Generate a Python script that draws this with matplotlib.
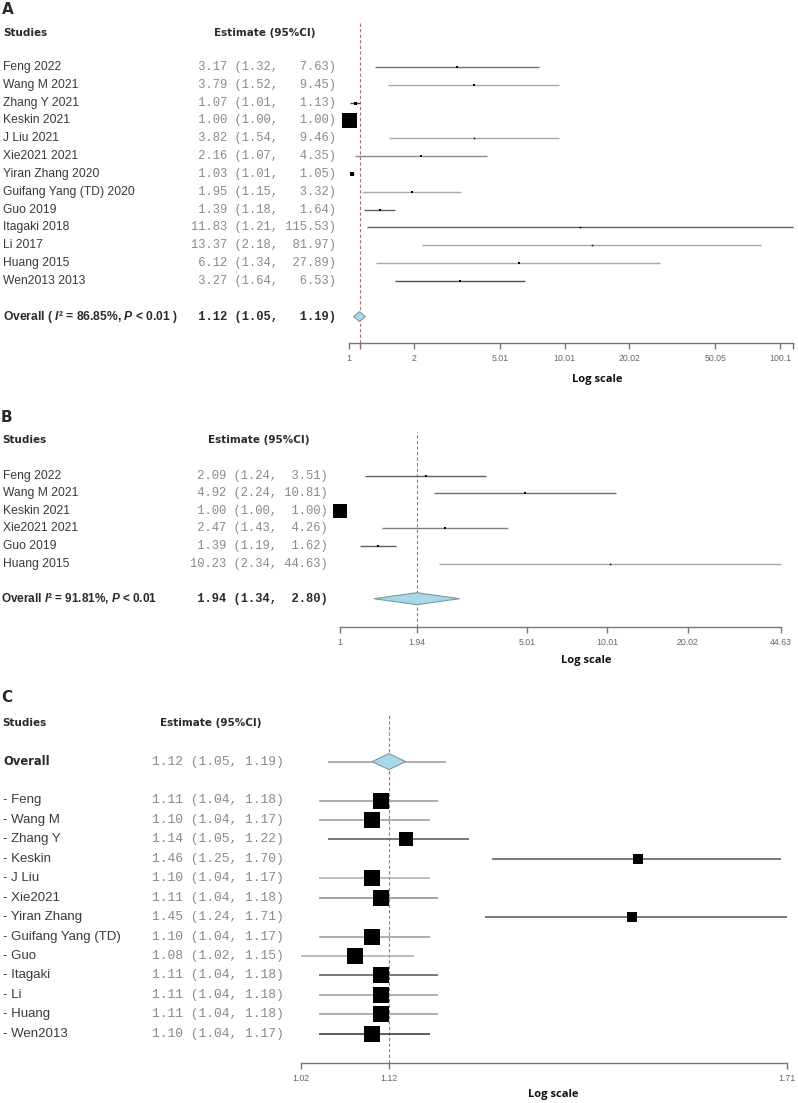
import matplotlib
matplotlib.use("Agg")
import matplotlib.pyplot as plt
import matplotlib.transforms as mtransforms
from matplotlib.patches import Polygon
from matplotlib.ticker import NullLocator

plt.rcParams['font.family'] = ['Liberation Sans', 'DejaVu Sans']
plt.rcParams['mathtext.fontset'] = 'custom'
plt.rcParams['mathtext.rm'] = 'Liberation Sans:bold'
plt.rcParams['mathtext.it'] = 'Liberation Sans:italic:bold'
plt.rcParams['mathtext.bf'] = 'Liberation Sans:bold'

W, H, DPI = 798, 1103, 100

# ---------------- data: panel A ----------------
a_studies = ["Feng 2022", "Wang M 2021", "Zhang Y 2021", "Keskin 2021", "J Liu 2021",
             "Xie2021 2021", "Yiran Zhang 2020", "Guifang Yang (TD) 2020", "Guo 2019",
             "Itagaki 2018", "Li 2017", "Huang 2015", "Wen2013 2013"]
a_est = [3.17, 3.79, 1.07, 1.00, 3.82, 2.16, 1.03, 1.95, 1.39, 11.83, 13.37, 6.12, 3.27]
a_lo = [1.32, 1.52, 1.01, 1.00, 1.54, 1.07, 1.01, 1.15, 1.18, 1.21, 2.18, 1.34, 1.64]
a_hi = [7.63, 9.45, 1.13, 1.00, 9.46, 4.35, 1.05, 3.32, 1.64, 115.53, 81.97, 27.89, 6.53]
a_overall = [1.12, 1.05, 1.19]
a_i2 = "86.85%"
a_p = "0.01"
a_ticks = [1, 2, 5.01, 10.01, 20.02, 50.05, 100.1]

# ---------------- data: panel B ----------------
b_studies = ["Feng 2022", "Wang M 2021", "Keskin 2021", "Xie2021 2021", "Guo 2019", "Huang 2015"]
b_est = [2.09, 4.92, 1.00, 2.47, 1.39, 10.23]
b_lo = [1.24, 2.24, 1.00, 1.43, 1.19, 2.34]
b_hi = [3.51, 10.81, 1.00, 4.26, 1.62, 44.63]
b_overall = [1.94, 1.34, 2.80]
b_i2 = "91.81%"
b_p = "0.01"
b_ticks = [1, 1.94, 5.01, 10.01, 20.02, 44.63]

# ---------------- data: panel C (leave-one-out) ----------------
c_omitted = ["Feng", "Wang M", "Zhang Y", "Keskin", "J Liu", "Xie2021", "Yiran Zhang",
             "Guifang Yang (TD)", "Guo", "Itagaki", "Li", "Huang", "Wen2013"]
c_est = [1.11, 1.10, 1.14, 1.46, 1.10, 1.11, 1.45, 1.10, 1.08, 1.11, 1.11, 1.11, 1.10]
c_lo = [1.04, 1.04, 1.05, 1.25, 1.04, 1.04, 1.24, 1.04, 1.02, 1.04, 1.04, 1.04, 1.04]
c_hi = [1.18, 1.17, 1.22, 1.70, 1.17, 1.18, 1.71, 1.17, 1.15, 1.18, 1.18, 1.18, 1.17]
c_overall = [1.12, 1.05, 1.19]
c_diamond = [1.10, 1.14]
c_ticks = [1.02, 1.12, 1.71]

# ---------------- styles ----------------
a_box_px = [2, 2, 3, 15, 1.5, 2, 4.5, 2, 2.5, 1.5, 1.5, 2, 2]
a_line_col = ['#707070', '#a8a8a8', '#404040', '#404040', '#a8a8a8', '#888888', '#404040',
              '#a8a8a8', '#606060', '#606060', '#a8a8a8', '#a8a8a8', '#505050']
b_box_px = [2, 2, 14, 2, 2.5, 1.5]
b_line_col = ['#606060', '#707070', '#404040', '#808080', '#606060', '#a8a8a8']
c_box_px = [15.5, 16, 14, 10.5, 16, 15.5, 10, 16, 15.5, 16, 15.5, 15.5, 15.5]
c_line_col = ['#999999', '#999999', '#555555', '#555555', '#aaaaaa', '#888888', '#555555',
              '#999999', '#aaaaaa', '#555555', '#999999', '#999999', '#333333']

NAME_COL = '#3a3a3a'
NUM_COL = '#8a8a8a'
HEAD_COL = '#2a2a2a'
AX_COL = '#777777'
DASH_COL = '#b07070'
DIAMOND_FC = '#a9d8e6'
DIAMOND_EC = '#7a9aa5'

fig = plt.figure(figsize=(W / DPI, H / DPI), dpi=DPI)


def pt(px):
    return px * 72.0 / DPI


def make_axes(left, top, right, bottom):
    return fig.add_axes([left / W, 1 - bottom / H, (right - left) / W, (bottom - top) / H])


def fx(px):
    return px / W


def fy(px):
    return 1 - px / H


def fmt_col(vals):
    return max(len(f"{v:.2f}") for v in vals)


def setup_axis(ax, lo, hi, ticks, extra_ticks, y_lims):
    ax.set_xscale('log')
    ax.set_xlim(lo, hi)
    ax.set_ylim(*y_lims)
    allt = list(ticks) + list(extra_ticks)
    ax.set_xticks(allt)
    ax.set_xticklabels([f"{t:g}" for t in ticks] + [""] * len(extra_ticks))
    ax.xaxis.set_minor_locator(NullLocator())
    ax.set_yticks([])
    for s in ['top', 'left', 'right']:
        ax.spines[s].set_visible(False)
    ax.spines['bottom'].set_color(AX_COL)
    ax.spines['bottom'].set_linewidth(1.0)
    ax.tick_params(axis='x', direction='out', length=pt(6), width=1.0, color=AX_COL,
                   labelsize=6.3, labelcolor='#666666', pad=pt(5))
    ax.patch.set_alpha(0)


def diamond(ax, lo, est, hi, y, half_h):
    poly = Polygon([(lo, y), (est, y - half_h), (hi, y), (est, y + half_h)], closed=True,
                   facecolor=DIAMOND_FC, edgecolor=DIAMOND_EC, lw=0.8, zorder=4, clip_on=False)
    ax.add_patch(poly)


# ================= Panel A =================
axA = make_axes(349, 22, 793.5, 343)
setup_axis(axA, min(a_lo), max(a_hi), a_ticks, [a_overall[0], max(a_hi)], (15.48, -2.52))
trA = mtransforms.blended_transform_factory(fig.transFigure, axA.transData)
we, wh = fmt_col(a_est), fmt_col(a_hi)
for i, (n, e, l, h) in enumerate(zip(a_studies, a_est, a_lo, a_hi)):
    axA.plot([l, h], [i, i], color=a_line_col[i], lw=1.0, solid_capstyle='butt', clip_on=False, zorder=3)
    axA.plot([e], [i], marker='s', ms=pt(a_box_px[i]), mew=0, color='black', clip_on=False, zorder=5)
    axA.text(fx(3), i, n, transform=trA, ha='left', va='center', fontsize=8.7, color=NAME_COL)
    axA.text(fx(191), i, f"{e:{we}.2f} ({l:.2f}, {h:{wh}.2f})", transform=trA, ha='left', va='center',
             fontsize=8.7, family='Liberation Mono', color=NUM_COL)
yo = len(a_studies) + 1
axA.axvline(a_overall[0], color=DASH_COL, lw=0.8, ls=(0, (3, 2)), zorder=2)
diamond(axA, a_overall[1], a_overall[0], a_overall[2], yo, 0.28)
axA.text(fx(3), yo, f"Overall ( $I$\u00b2 = {a_i2}, $P$ < {a_p} )", transform=trA, ha='left', va='center',
         fontsize=8.7, family='Liberation Sans', fontweight='bold', color=HEAD_COL)
axA.text(fx(191), yo, f"{a_overall[0]:{we}.2f} ({a_overall[1]:.2f}, {a_overall[2]:{wh}.2f})", transform=trA,
         ha='left', va='center', fontsize=8.7, family='Liberation Mono', fontweight='bold', color=HEAD_COL)
fig.text(fx(2), fy(9), "A", ha='left', va='center', fontsize=11, family='DejaVu Sans', fontweight='bold', color=HEAD_COL)
fig.text(fx(3), fy(33), "Studies", ha='left', va='center', fontsize=7.5, family='DejaVu Sans', fontweight='bold', color=HEAD_COL)
fig.text(fx(265), fy(33), "Estimate (95%CI)", ha='center', va='center', fontsize=7.5, family='DejaVu Sans', fontweight='bold', color=HEAD_COL)
fig.text(fx(597), fy(379), "Log scale", ha='center', va='center', fontsize=8, family='Open Sans', fontweight='bold', color='#111111')

# ================= Panel B =================
b_step, b_row0 = 17.6, 475.5
axB = make_axes(340, 432, 781, 627)
setup_axis(axB, min(b_lo), max(b_hi), b_ticks, [], ((627 - b_row0) / b_step, (432 - b_row0) / b_step))
trB = mtransforms.blended_transform_factory(fig.transFigure, axB.transData)
we, wh = fmt_col(b_est), fmt_col(b_hi)
for i, (n, e, l, h) in enumerate(zip(b_studies, b_est, b_lo, b_hi)):
    axB.plot([l, h], [i, i], color=b_line_col[i], lw=1.0, solid_capstyle='butt', clip_on=False, zorder=3)
    axB.plot([e], [i], marker='s', ms=pt(b_box_px[i]), mew=0, color='black', clip_on=False, zorder=5)
    axB.text(fx(3), i, n, transform=trB, ha='left', va='center', fontsize=8.7, color=NAME_COL)
    axB.text(fx(190), i, f"{e:{we}.2f} ({l:.2f}, {h:{wh}.2f})", transform=trB, ha='left', va='center',
             fontsize=8.7, family='Liberation Mono', color=NUM_COL)
yo = len(b_studies) + 1
axB.axvline(b_overall[0], color=DASH_COL, lw=0.8, ls=(0, (3, 2)), zorder=2)
diamond(axB, b_overall[1], b_overall[0], b_overall[2], yo, 0.34)
axB.text(fx(1), yo, f"Overall $I$\u00b2 = {b_i2}, $P$ < {b_p}", transform=trB, ha='left', va='center',
         fontsize=8.5, family='Liberation Sans', fontweight='bold', color=HEAD_COL)
axB.text(fx(190), yo, f"{b_overall[0]:{we}.2f} ({b_overall[1]:.2f}, {b_overall[2]:{wh}.2f})", transform=trB,
         ha='left', va='center', fontsize=8.7, family='Liberation Mono', fontweight='bold', color=HEAD_COL)
fig.text(fx(1), fy(418), "B", ha='left', va='center', fontsize=11, family='DejaVu Sans', fontweight='bold', color=HEAD_COL)
fig.text(fx(2), fy(440), "Studies", ha='left', va='center', fontsize=7.5, family='DejaVu Sans', fontweight='bold', color=HEAD_COL)
fig.text(fx(259), fy(440), "Estimate (95%CI)", ha='center', va='center', fontsize=7.5, family='DejaVu Sans', fontweight='bold', color=HEAD_COL)
fig.text(fx(586), fy(661), "Log scale", ha='center', va='center', fontsize=8, family='Open Sans', fontweight='bold', color='#111111')

# ================= Panel C =================
c_step, c_row0 = 19.44, 800.5
axC = make_axes(301, 713, 787, 1063)
setup_axis(axC, min(c_lo), max(c_hi), c_ticks, [], ((1063 - c_row0) / c_step, (713 - c_row0) / c_step))
trC = mtransforms.blended_transform_factory(fig.transFigure, axC.transData)
for i, (n, e, l, h) in enumerate(zip(c_omitted, c_est, c_lo, c_hi)):
    axC.plot([l, h], [i, i], color=c_line_col[i], lw=1.1, solid_capstyle='butt', clip_on=False, zorder=3)
    axC.plot([e], [i], marker='s', ms=pt(c_box_px[i]), mew=0, color='black', clip_on=False, zorder=5)
    axC.text(fx(3), i, f"- {n}", transform=trC, ha='left', va='center', fontsize=9.5, color=NAME_COL)
    axC.text(fx(152), i, f"{e:.2f} ({l:.2f}, {h:.2f})", transform=trC, ha='left', va='center',
             fontsize=9.4, family='Liberation Mono', color=NUM_COL)
yo = -2
axC.axvline(c_overall[0], color=DASH_COL, lw=0.8, ls=(0, (3, 2)), zorder=2)
axC.plot([c_overall[1], c_overall[2]], [yo, yo], color='#999999', lw=1.1, solid_capstyle='butt', zorder=3)
diamond(axC, c_diamond[0], c_overall[0], c_diamond[1], yo, 0.41)
axC.text(fx(3), yo, "Overall", transform=trC, ha='left', va='center', fontsize=8.3,
         family='DejaVu Sans', fontweight='bold', color=HEAD_COL)
axC.text(fx(152), yo, f"{c_overall[0]:.2f} ({c_overall[1]:.2f}, {c_overall[2]:.2f})", transform=trC,
         ha='left', va='center', fontsize=9.4, family='Liberation Mono', color=NUM_COL)
fig.text(fx(1), fy(698), "C", ha='left', va='center', fontsize=11, family='DejaVu Sans', fontweight='bold', color=HEAD_COL)
fig.text(fx(2), fy(723), "Studies", ha='left', va='center', fontsize=7.5, family='DejaVu Sans', fontweight='bold', color=HEAD_COL)
fig.text(fx(211), fy(723), "Estimate (95%CI)", ha='center', va='center', fontsize=7.5, family='DejaVu Sans', fontweight='bold', color=HEAD_COL)
fig.text(fx(553), fy(1095), "Log scale", ha='center', va='center', fontsize=8, family='Open Sans', fontweight='bold', color='#111111')

fig.savefig("out.png", dpi=DPI)
